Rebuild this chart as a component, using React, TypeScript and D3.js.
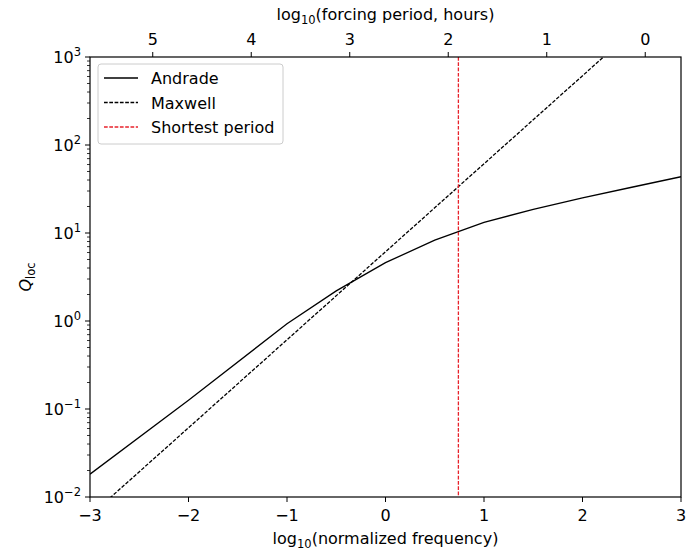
import React from "react";
import * as d3 from "d3";

const andradeLogFreq = [-3, -2, -1, -0.5, 0, 0.5, 1, 1.5, 2, 2.5, 3];
const andradeQ = [0.0182, 0.126, 0.93, 2.2, 4.6, 8.3, 13.2, 18.6, 25.1, 33.1, 43.6];
const maxwellLogFreq = [-3, 3];
const maxwellQ = [0.00612, 6120];
const shortestPeriodLogFreq = 0.74;
const periodOffset = 2.637; // log10(period hours) = offset - log10(normalized freq)
const bottomTicks = [-3, -2, -1, 0, 1, 2, 3];
const topTicks = [5, 4, 3, 2, 1, 0];
const yTickExps = [-2, -1, 0, 1, 2, 3];
const legendLabels = ["Andrade", "Maxwell", "Shortest period"];

const W = 700, H = 550;
const L = 90, R = 681, T = 57, B = 497;
const FONT = "DejaVu Sans, sans-serif";

export default function App() {
  const x = d3.scaleLinear().domain([-3, 3]).range([L, R]);
  const y = d3.scaleLog().domain([1e-2, 1e3]).range([B, T]);
  const line = d3.line<[number, number]>().x(d => x(d[0])).y(d => y(d[1]));
  const andrade = line(andradeLogFreq.map((v, i) => [v, andradeQ[i]]) as [number, number][]) || "";
  const maxwell = line(maxwellLogFreq.map((v, i) => [v, maxwellQ[i]]) as [number, number][]) || "";

  const minor: number[] = [];
  for (let e = -2; e < 3; e++) for (let m = 2; m <= 9; m++) minor.push(m * Math.pow(10, e));

  const styles = [
    { stroke: "#000", dash: undefined },
    { stroke: "#000", dash: "3.7,1.6" },
    { stroke: "#e8222b", dash: "3.7,1.6" },
  ];

  return (
    <svg width={W} height={H} style={{ display: "block", position: "absolute", left: 0, top: 0 }} fontFamily={FONT}>
      <rect width={W} height={H} fill="#fff" />
      <defs>
        <clipPath id="plot"><rect x={L} y={T} width={R - L} height={B - T} /></clipPath>
      </defs>
      <g clipPath="url(#plot)">
        <path d={andrade} fill="none" stroke="#000" strokeWidth={1.3} />
        <path d={maxwell} fill="none" stroke="#000" strokeWidth={1.3} strokeDasharray="3.7,1.6" />
        <line x1={x(shortestPeriodLogFreq)} x2={x(shortestPeriodLogFreq)} y1={T} y2={B} stroke="#e8222b" strokeWidth={1.3} strokeDasharray="3.7,1.6" />
      </g>
      <rect x={L} y={T} width={R - L} height={B - T} fill="none" stroke="#000" strokeWidth={1.2} />
      {bottomTicks.map(t => (
        <g key={"b" + t}>
          <line x1={x(t)} x2={x(t)} y1={B} y2={B + 5} stroke="#000" strokeWidth={1} />
          <text x={x(t)} y={B + 24} fontSize={16} textAnchor="middle">{t < 0 ? "\u2212" + Math.abs(t) : t}</text>
        </g>
      ))}
      {topTicks.map(t => (
        <g key={"t" + t}>
          <line x1={x(periodOffset - t)} x2={x(periodOffset - t)} y1={T} y2={T - 5} stroke="#000" strokeWidth={1} />
          <text x={x(periodOffset - t)} y={T - 12} fontSize={16} textAnchor="middle">{t}</text>
        </g>
      ))}
      {yTickExps.map(e => (
        <g key={"y" + e}>
          <line x1={L} x2={L - 5} y1={y(Math.pow(10, e))} y2={y(Math.pow(10, e))} stroke="#000" strokeWidth={1} />
          <text x={L - 9} y={y(Math.pow(10, e)) + 6} fontSize={16} textAnchor="end">
            10<tspan dy={-7} fontSize={11.5}>{e < 0 ? "\u2212" + Math.abs(e) : e}</tspan>
          </text>
        </g>
      ))}
      {minor.map((m, i) => (
        <line key={"m" + i} x1={L} x2={L - 3} y1={y(m)} y2={y(m)} stroke="#000" strokeWidth={0.8} />
      ))}
      <text x={(L + R) / 2} y={544} fontSize={16} textAnchor="middle">
        log<tspan dy={4} fontSize={11.5}>10</tspan><tspan dy={-4}>(normalized frequency)</tspan>
      </text>
      <text x={(L + R) / 2} y={20} fontSize={16} textAnchor="middle">
        log<tspan dy={4} fontSize={11.5}>10</tspan><tspan dy={-4}>(forcing period, hours)</tspan>
      </text>
      <text transform={`translate(31, ${(T + B) / 2}) rotate(-90)`} fontSize={16} textAnchor="middle">
        <tspan fontStyle="italic">Q</tspan><tspan dy={4} fontSize={11.5}>loc</tspan>
      </text>
      <g>
        <rect x={98} y={64} width={185} height={80} rx={3} fill="#fff" fillOpacity={0.8} stroke="#ccc" strokeWidth={1} />
        {legendLabels.map((lab, i) => (
          <g key={lab}>
            <line x1={104} x2={138} y1={78 + i * 24.5} y2={78 + i * 24.5} stroke={styles[i].stroke} strokeWidth={1.3} strokeDasharray={styles[i].dash} />
            <text x={151} y={84 + i * 24.5} fontSize={16}>{lab}</text>
          </g>
        ))}
      </g>
    </svg>
  );
}
